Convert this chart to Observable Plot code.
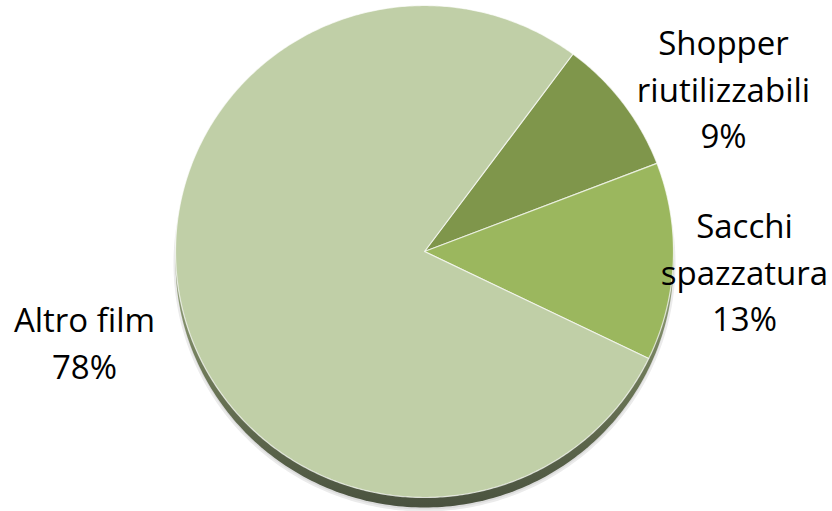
<!DOCTYPE html>
<html><head><meta charset="utf-8">
<script src="https://cdn.jsdelivr.net/npm/d3@7"></script>
<script src="https://cdn.jsdelivr.net/npm/@observablehq/plot@0.6"></script>
<style>html,body{margin:0;padding:0;background:#fff;overflow:hidden}</style>
</head><body><div id="chart"></div>
<script>
// ---- data ----
const categories = ["Shopper riutilizzabili", "Sacchi spazzatura", "Altro film"];
const labelLines = [["Shopper", "riutilizzabili"], ["Sacchi", "spazzatura"], ["Altro film"]];
const percentages = [9, 13, 78];
const colors = ["#7f964b", "#9bb75e", "#c0cfa7"];

// ---- layout ----
const W = 832, H = 511;
const cx = 424, cy = 251, rx = 249, ry = 246;
const startDeg = 36.6;
const shadowDy = 10;
const labelPx = [[723, 86], [744, 269], [84, 340]];
const fontSize = 33;

const pie = d3.pie().sort(null).value(d => d)
  .startAngle(startDeg * Math.PI / 180)
  .endAngle((startDeg + 360) * Math.PI / 180);
const arcs = pie(percentages);

const slices = arcs.map((a, i) => {
  const p = [{x: 0, y: 0}];
  const n = Math.max(4, Math.ceil((a.endAngle - a.startAngle) / 0.01));
  for (let j = 0; j <= n; j++) {
    const t = a.startAngle + (a.endAngle - a.startAngle) * j / n;
    p.push({x: Math.sin(t), y: Math.cos(t)});
  }
  p.push({x: 0, y: 0});
  return p;
});
const circle = (dy, s = 1) => d3.range(0, 361).map(k => {
  const t = k * Math.PI / 180;
  return {x: s * Math.sin(t), y: s * Math.cos(t) - dy / ry};
});

const labels = categories.map((c, i) => ({
  text: labelLines[i].join("\n") + "\n" + percentages[i] + "%",
  x: (labelPx[i][0] - cx) / rx,
  y: (cy - labelPx[i][1]) / ry
}));

const marks = [
  Plot.line(circle(shadowDy + 2, 1.004), {x: "x", y: "y", fill: "#dcdcdc", stroke: "#ebebeb", strokeWidth: 2}),
  Plot.line(circle(shadowDy), {x: "x", y: "y", fill: "url(#shadowGrad)", stroke: "none"}),
  ...slices.map((s, i) => Plot.line(s, {x: "x", y: "y", fill: colors[i], stroke: "#ffffff", strokeOpacity: 0.7, strokeWidth: 1.2, strokeLinejoin: "round"})),
  Plot.text(labels, {x: "x", y: "y", text: "text", lineHeight: 1.42, fontSize, fill: "#000", textAnchor: "middle", fontFamily: "'Open Sans', Lato, sans-serif"})
];

const chart = Plot.plot({
  width: W, height: H,
  marginTop: 0, marginRight: 0, marginBottom: 0, marginLeft: 0,
  x: {domain: [-cx / rx, (W - cx) / rx], range: [0, W], axis: null},
  y: {domain: [-(H - cy) / ry, cy / ry], range: [H, 0], axis: null},
  style: {background: "#fff", overflow: "visible"},
  marks
});

const defs = d3.select(chart).insert("defs", ":first-child");
const g = defs.append("linearGradient").attr("id", "shadowGrad")
  .attr("x1", 0).attr("y1", 0).attr("x2", 0).attr("y2", 1);
g.append("stop").attr("offset", "0.45").attr("stop-color", "#a3b289");
g.append("stop").attr("offset", "0.72").attr("stop-color", "#6f7a59");
g.append("stop").attr("offset", "1").attr("stop-color", "#4a523f");

document.getElementById("chart").appendChild(chart);
</script>
</body></html>
